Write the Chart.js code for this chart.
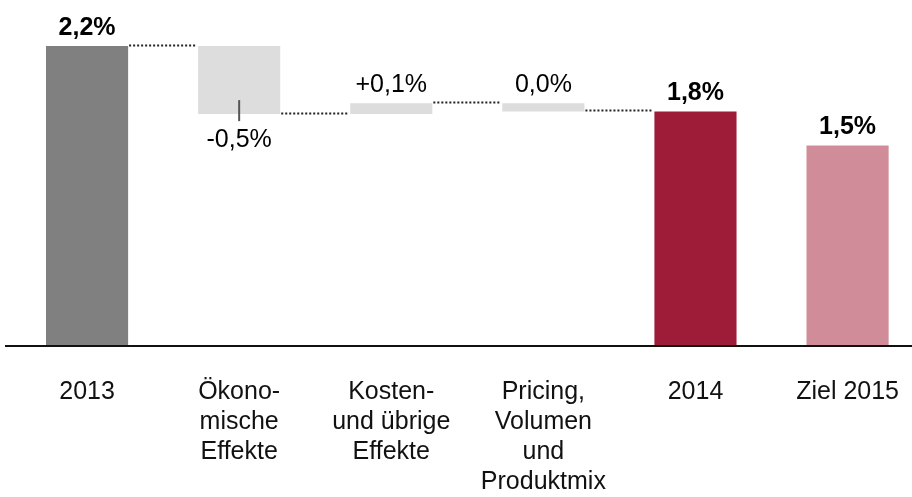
<!DOCTYPE html>
<html>
<head>
<meta charset="utf-8">
<script src="https://cdn.jsdelivr.net/npm/chart.js@4/dist/chart.umd.min.js"></script>
<style>
  html, body { margin: 0; padding: 0; background: #fff; overflow: hidden; }
  #chart { display: block; }
</style>
</head>
<body>
<canvas id="chart" width="930" height="497"></canvas>
<script>
// Categories (multi-line labels)
const categories = [
    ['2013'],
    ['Ökono-', 'mische', 'Effekte'],
    ['Kosten-', 'und übrige', 'Effekte'],
    ['Pricing,', 'Volumen', 'und', 'Produktmix'],
    ['2014'],
    ['Ziel 2015']
];
// Bars as floating ranges: start and end value in %
const barStart = [0, 2.2, 1.70, 1.78, 0, 0];
const barEnd = [2.2, 1.70, 1.78, 1.72, 1.72, 1.47];
const valueLabels = ['2,2%', '-0,5%', '+0,1%', '0,0%', '1,8%', '1,5%'];
const isTotal = [true, false, false, false, true, true];
const barColors = ['#808080', '#dddddd', '#dddddd', '#dddddd', '#9e1c37', '#d08c99'];

const FONT = "'Liberation Sans', Arial, sans-serif";

// Labels, leader line, dotted connectors and baseline
const waterfallPlugin = {
    id: 'waterfall',
    afterDatasetsDraw(chart) {
        const ctx = chart.ctx;
        const y = chart.scales.y;
        const bars = chart.getDatasetMeta(0).data;

        ctx.save();
        // dotted connectors
        ctx.strokeStyle = '#222';
        ctx.lineWidth = 2;
        ctx.setLineDash([2, 2]);
        for (let i = 0; i < 4; i++) {
            const a = bars[i], b = bars[i + 1];
            const yy = Math.round(y.getPixelForValue(barEnd[i])) - 0.5;
            ctx.beginPath();
            ctx.moveTo(a.x + a.width / 2 + 1, yy);
            ctx.lineTo(b.x - b.width / 2 - 1, yy);
            ctx.stroke();
        }
        ctx.setLineDash([]);

        // value labels
        ctx.fillStyle = '#000';
        ctx.textAlign = 'center';
        ctx.textBaseline = 'alphabetic';
        bars.forEach((bar, i) => {
            ctx.font = (isTotal[i] ? 'bold ' : '') + '25px ' + FONT;
            const top = y.getPixelForValue(Math.max(barStart[i], barEnd[i]));
            const bottom = y.getPixelForValue(Math.min(barStart[i], barEnd[i]));
            if (barEnd[i] < barStart[i] - 0.1) {
                // label below the bar with a short leader line
                ctx.fillText(valueLabels[i], bar.x, bottom + 33);
                ctx.strokeStyle = '#555';
                ctx.lineWidth = 2;
                ctx.beginPath();
                ctx.moveTo(bar.x, bottom - 14);
                ctx.lineTo(bar.x, bottom + 7);
                ctx.stroke();
            } else {
                ctx.fillText(valueLabels[i], bar.x, top - 11);
            }
        });

        // baseline
        const y0 = y.getPixelForValue(0);
        ctx.strokeStyle = '#111';
        ctx.lineWidth = 2;
        ctx.beginPath();
        ctx.moveTo(5, y0);
        ctx.lineTo(chart.width, y0);
        ctx.stroke();
        ctx.restore();
    }
};

new Chart(document.getElementById('chart'), {
    type: 'bar',
    data: {
        labels: categories,
        datasets: [{
            data: barStart.map((s, i) => [s, barEnd[i]]),
            backgroundColor: barColors,
            borderWidth: 0,
            categoryPercentage: 1,
            barPercentage: 0.54
        }]
    },
    options: {
        responsive: false,
        animation: false,
        layout: { padding: { left: 11, right: 0, top: 5, bottom: -31 } },
        plugins: {
            legend: { display: false },
            tooltip: { enabled: false }
        },
        scales: {
            x: {
                grid: { display: false, drawTicks: false },
                border: { display: false },
                ticks: {
                    color: '#111',
                    padding: 31,
                    maxRotation: 0,
                    autoSkip: false,
                    font: { family: FONT, size: 25, lineHeight: 1.2 }
                }
            },
            y: {
                display: false,
                min: 0,
                max: 2.5
            }
        }
    },
    plugins: [waterfallPlugin]
});
</script>
</body>
</html>
